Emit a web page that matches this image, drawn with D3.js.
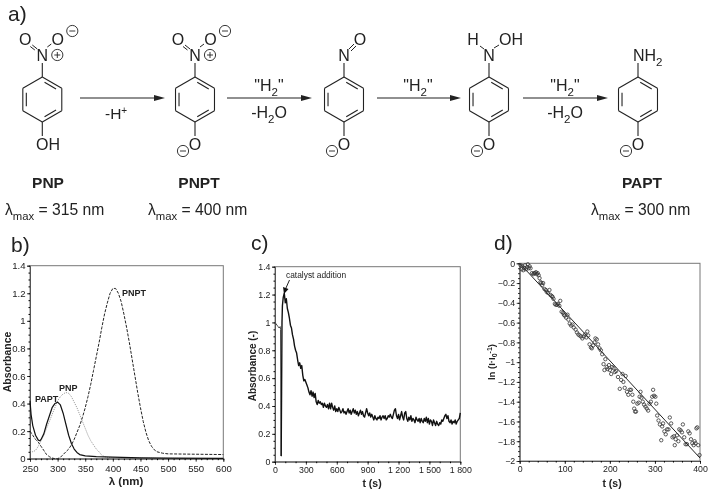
<!DOCTYPE html>
<html><head><meta charset="utf-8">
<script src="https://cdn.jsdelivr.net/npm/d3@7/dist/d3.min.js"></script>
<style>html,body{margin:0;padding:0;background:#fff}svg{display:block;filter:blur(.3px)}text{font-family:"Liberation Sans",Arial,sans-serif;fill:#222}</style>
</head><body><svg id="c" width="709" height="491"></svg>
<script>
// ---- panel b: spectra
const papLambda=[250,252,255,260,265,268,270,275,280,285,290,295,300,305,310,315,320,325,330,335,340,350,370,400,450,500,600];
const papAbs=[.42,.32,.24,.17,.135,.13,.14,.18,.25,.31,.37,.4,.41,.39,.33,.25,.17,.11,.07,.045,.03,.02,.015,.012,.006,.004,.003];
const pnpLambda=[250,255,260,265,270,275,280,285,290,295,300,305,310,315,320,325,330,335,340,345,350,355,360,365,370,375,380,385,390,400,600];
const pnpAbs=[.06,.05,.06,.09,.13,.17,.22,.27,.32,.37,.42,.45,.47,.48,.475,.45,.41,.37,.32,.27,.22,.17,.13,.1,.07,.05,.025,.015,.01,.005,0];
const pntLambda=[250,255,260,265,270,275,280,285,290,295,300,305,310,315,320,325,330,335,340,345,350,355,360,365,370,375,380,385,390,395,400,405,410,415,420,425,430,435,440,445,450,455,460,465,470,475,480,490,500,600];
const pntAbs=[.2,.17,.14,.12,.09,.06,.03,.015,.005,0,0,.01,.03,.05,.07,.1,.14,.19,.24,.3,.37,.45,.54,.64,.74,.84,.95,1.05,1.13,1.2,1.235,1.235,1.2,1.14,1.05,.95,.84,.72,.6,.48,.37,.27,.19,.13,.09,.065,.05,.04,.035,.03];
const bXTicks=[250,300,350,400,450,500,550,600];
const absTicks=[0,.2,.4,.6,.8,1,1.2,1.4];
// ---- panel c: kinetics
const cTimes=[0,10,20,30,40,50,54,57,60,64,68,72,76,80].concat(d3.range(90,1801,10));
const cAbs=[1,.99,.98,.97,.96,.97,.95,.4,.04,.5,1,1.12,1.15,1.18,
1.21,1.14,1.17,1.1,1.07,1.03,.98,.96,.91,.88,.83,.8,.78,.73,.69,.71,.67,.69,.62,.58,.59,.57,.55,.53,.5,.48,.51,.47,.5,.46,.49,.43,.41,.44,.42,.43,.41,.42,.39,.42,.4,.39,.41,.38,.42,.38,.42,.39,.37,.4,.36,
.38,.36,.39,.37,.35,.36,.38,.35,.36,.34,.36,.38,.35,.37,.34,.36,.38,.35,.37,.34,.36,.33,.35,.37,.34,.36,.33,.32,.35,.38,.35,.33,.35,.32,.34,.32,.3,.33,.31,.3,.32,.31,.33,.3,.32,.33,.31,.33,.3,.31,.33,.32,.34,.32,.31,.34,.37,.38,.33,.31,.34,.3,.33,.36,.32,.3,.35,.36,.31,.29,.32,.3,.33,.29,.31,.3,.28,.32,.3,.29,.31,.28,.31,.29,.28,.31,.29,.32,.28,.31,.27,.3,.29,.26,.3,.28,.26,.29,.27,.26,.28,.27,.3,.29,.31,.33,.34,.31,.33,.29,.28,.3,.27,.29,.28,.3,.27,.29,.3,.31,.35];
const cXTicks=[0,300,600,900,1200,1500,1800];
const cXLabels=["0","300","600","900","1 200","1 500","1 800"];
// ---- panel d: log plot
const dTimes=[2,4,6,8,10,12,14,16,18,20,22,24,27,30,32,34,36,38,40,42,44,46,48,50,52,55,58,60,63,66,68,71,73,75,78,80,83,85,88,90,93,96,98,100,103,106,108,111,114,117,120,124,127,130,133,136,139,142,145,148,150,152,155,158,160,163,166,168,171,174,177,180,183,186,188,190,193,195,198,200,203,205,208,211,214,218,222,225,228,230,233,235,238,241,244,247,250,252,254,256,258,261,264,266,268,270,273,276,279,282,285,288,291,294,296,298,301,303,305,308,311,314,316,318,321,324,327,330,333,336,339,342,344,346,349,352,354,357,360,362,365,368,371,374,377,380,383,386,388,390,392,394,396,399];
const dLn=[-.02,-.06,-.03,-.07,-.05,-.02,-.06,-.04,-.01,-.05,-.03,-.05,-.1,-.11,-.1,-.1,-.09,-.11,-.1,-.12,-.15,-.19,-.2,-.22,-.2,-.26,-.27,-.29,-.3,-.27,-.32,-.33,-.34,-.36,-.41,-.42,-.42,-.41,-.43,-.38,-.49,-.5,-.52,-.53,-.55,-.52,-.57,-.61,-.63,-.62,-.65,-.67,-.7,-.72,-.73,-.74,-.76,-.74,-.72,-.75,-.69,-.73,-.82,-.85,-.86,-.83,-.8,-.76,-.77,-.82,-.86,-.88,-.92,-1.02,-1.08,-.97,-1.05,-1.07,-1.03,-1.08,-1.12,-1.05,-1.06,-1.1,-1.09,-1.15,-1.27,-1.18,-1.12,-1.2,-1.26,-1.14,-1.3,-1.33,-1.28,-1.28,-1.33,-1.4,-1.47,-1.5,-1.5,-1.42,-1.41,-1.35,-1.3,-1.36,-1.4,-1.43,-1.45,-1.47,-1.49,-1.42,-1.4,-1.35,-1.28,-1.34,-1.35,-1.42,-1.54,-1.59,-1.63,-1.79,-1.65,-1.62,-1.7,-1.73,-1.68,-1.68,-1.56,-1.62,-1.76,-1.75,-1.84,-1.78,-1.74,-1.8,-1.68,-1.69,-1.71,-1.63,-1.76,-1.83,-1.83,-1.7,-1.72,-1.78,-1.82,-1.84,-1.8,-1.82,-1.67,-1.66,-1.84,-1.94];
const fitTimes=[0,400];
const fitLn=[0,-1.97];
const dXTicks=[0,100,200,300,400];
const dYTicks=[0,-.2,-.4,-.6,-.8,-1,-1.2,-1.4,-1.6,-1.8,-2];

const svg=d3.select("#c");
const T=(x,y,s,o={})=>{const t=svg.append("text").attr("x",x).attr("y",y).attr("font-size",o.size||14)
 .attr("text-anchor",o.anchor||"start").attr("font-weight",o.bold?"bold":null).text(s);
 if(o.rot!=null)t.attr("transform",`rotate(${o.rot},${x},${y})`);return t;};
const L=(a,b,c,d,w=1.1,col="#222")=>svg.append("line").attr("x1",a).attr("y1",b).attr("x2",c).attr("y2",d).attr("stroke",col).attr("stroke-width",w);
const sub=(t,s,size)=>t.append("tspan").attr("dy",size*.3).attr("font-size",size*.72).text(s);

// panel titles
[["a)",8,21],["b)",11,252],["c)",251,250],["d)",494,250]].forEach(d=>T(d[1],d[2],d[0],{size:21}));

// ---- scheme a)
function ring(cx){const cy=99.5,R=22.5,v=d3.range(6).map(i=>{const a=-Math.PI/2+i*Math.PI/3;return[cx+R*Math.cos(a),cy+R*Math.sin(a)]});
 v.forEach((p,i)=>{const q=v[(i+1)%6];L(p[0],p[1],q[0],q[1])});
 [0,2,4].forEach(i=>{const p=v[i],q=v[(i+1)%6],k=.82;
  const f=u=>[cx+(u[0]-cx)*k,cy+(u[1]-cy)*k],m=.14;
  const a=f(p),b=f(q);L(a[0]+(b[0]-a[0])*m,a[1]+(b[1]-a[1])*m,b[0]-(b[0]-a[0])*m,b[1]-(b[1]-a[1])*m)});}
function charge(x,y,plus){svg.append("circle").attr("cx",x).attr("cy",y).attr("r",5.6).attr("fill","none").attr("stroke","#222").attr("stroke-width",.9);
 L(x-3,y,x+3,y,.9);if(plus)L(x,y-3,x,y+3,.9);}
const atom=(x,y,s)=>T(x,y+5.5,s,{size:16,anchor:"middle"});
function nitro(cx){L(cx,77,cx,63);atom(cx,55,"N");atom(cx-17,39.5,"O");atom(cx+15.5,39.5,"O");
 L(cx-5,49,cx-10,45,1);L(cx-7.5,50,cx-12,46.5,1);L(cx+5,47,cx+9,44,1);charge(cx+30,31,false);charge(cx+15,55,true);}
function oxide(cx){L(cx,122,cx,136);atom(cx,144,"O");charge(cx-12,151,false);}
[42.3,195,344,489,638].forEach(ring);
nitro(42.3);L(42.3,122,42.3,136);T(48,150,"OH",{size:16,anchor:"middle"});
nitro(195);oxide(195);
L(344,77,344,63);atom(344,55,"N");atom(360,39,"O");L(349,49,354,44,1);L(351,51,356,46,1);oxide(344);
L(489,77,489,63);atom(489,55,"N");T(473,45,"H",{size:16,anchor:"middle"});T(511,45,"OH",{size:16,anchor:"middle"});L(484,49,480,46,1);L(494,48,499,45,1);oxide(489);
L(638,77,638,63);{const t=T(633,61,"NH",{size:16});sub(t,"2",16);}oxide(638);
function arrow(a,b){L(a,98,b-8,98,1.1);svg.append("path").attr("d",d3.line()([[b,98],[b-11,95],[b-11,101]])+"Z").attr("fill","#222");}
[[80,165],[227,312],[377,461],[523,608]].forEach(d=>arrow(d[0],d[1]));
{const t=T(105,119,"-H",{size:15.5});t.append("tspan").attr("dy",-5).attr("font-size",10).text("+");}
function h2(cx){const t=T(cx,91,'"H',{size:16,anchor:"middle"});sub(t,"2",16);t.append("tspan").attr("dy",-4.6).attr("font-size",16).text('"');}
function water(cx){const t=T(cx,118,"-H",{size:16,anchor:"middle"});sub(t,"2",16);t.append("tspan").attr("dy",-4.6).attr("font-size",16).text("O");}
[269,418,565].forEach(h2);[269,565].forEach(water);
[["PNP",48],["PNPT",199],["PAPT",642]].forEach(d=>T(d[1],188,d[0],{size:15.5,bold:true,anchor:"middle"}));
[["315",5],["400",148],["300",591]].forEach(d=>{const t=T(d[1],215,"λ",{size:15.7});sub(t,"max",15.7);
 t.append("tspan").attr("dy",-4.7).attr("font-size",15.7).text(" = "+d[0]+" nm");});

// ---- charts
function frame(x,y,xt,xf,yt,yf,size,xMinor,yMinor,xPad){
 const r=x.range(),b=y.range();
 svg.append("rect").attr("x",r[0]).attr("y",b[1]).attr("width",r[1]-r[0]).attr("height",b[0]-b[1]).attr("fill","none").attr("stroke","#777").attr("stroke-width",1);
 const gx=svg.append("g").attr("transform",`translate(0,${b[0]})`).call(d3.axisBottom(x).tickValues(xt).tickFormat(xf).tickSize(3).tickPadding(xPad));
 const gy=svg.append("g").attr("transform",`translate(${r[0]},0)`).call(d3.axisLeft(y).tickValues(yt).tickFormat(yf).tickSize(3).tickPadding(1.5));
 svg.append("g").attr("transform",`translate(0,${b[0]})`).call(d3.axisBottom(x).tickValues(xMinor).tickFormat("").tickSize(1.5)).select(".domain").remove();
 svg.append("g").attr("transform",`translate(${r[0]},0)`).call(d3.axisLeft(y).tickValues(yMinor).tickFormat("").tickSize(1.5)).select(".domain").remove();
 [gx,gy].forEach(g=>{g.select(".domain").attr("stroke","#555");g.selectAll("line").attr("stroke","#444");g.selectAll("text").attr("font-size",size).attr("font-family","Liberation Sans")});
}
const line=(x,y,xs,ys,w,col,dash)=>svg.append("path").datum(xs.map((v,i)=>[v,ys[i]])).attr("fill","none").attr("stroke",col).attr("stroke-width",w)
 .attr("stroke-dasharray",dash||null).attr("stroke-linejoin","round").attr("d",d3.line().x(d=>x(d[0])).y(d=>y(d[1])));
const fmt=d=>String(d);
const absMinor=d3.range(0,1.41,.05);

// b
{const x=d3.scaleLinear([250,600],[30,223.3]),y=d3.scaleLinear([0,1.4],[458.7,265.7]);
 frame(x,y,bXTicks,fmt,absTicks,fmt,9.6,d3.range(250,601,10),absMinor,3.2);
 line(x,y,pnpLambda,pnpAbs,.8,"#888","1.2 1");
 line(x,y,pntLambda,pntAbs,1,"#222","3 1.4");
 line(x,y,papLambda,papAbs,1.2,"#111");
 T(122,296,"PNPT",{size:9,bold:true});T(59,391,"PNP",{size:9,bold:true});T(35,402,"PAPT",{size:9,bold:true});
 T(126,485,"λ (nm)",{size:11.5,bold:true,anchor:"middle"});
 T(11,362,"Absorbance",{size:10.5,bold:true,anchor:"middle",rot:-90});}
// c
{const x=d3.scaleLinear([0,1800],[275,460.3]),y=d3.scaleLinear([0,1.4],[461.7,266.7]);
 frame(x,y,cXTicks,(d,i)=>cXLabels[i],absTicks,fmt,8.8,d3.range(0,1801,100),absMinor,2);
 const n=cTimes.indexOf(60);
 line(x,y,cTimes.slice(0,n+1),cAbs.slice(0,n+1),1,"#444");
 line(x,y,cTimes.slice(n),cAbs.slice(n),1.4,"#111");
 T(286,278,"catalyst addition",{size:8.4});
 L(289.5,280,285.5,289,1);svg.append("path").attr("d",d3.line()([[284,294],[283,287],[288.5,289]])+"Z").attr("fill","#111");
 T(372,487,"t (s)",{size:10.5,bold:true,anchor:"middle"});
 T(256,366,"Absorbance (-)",{size:10,bold:true,anchor:"middle",rot:-90});}
// d
{const x=d3.scaleLinear([0,400],[519.7,700]),y=d3.scaleLinear([-2,0],[461,263.3]);
 frame(x,y,dXTicks,fmt,dYTicks,d=>String(d).replace("-","−"),8.8,d3.range(0,401,20),d3.range(-2,.01,.05),2);
 line(x,y,fitTimes,fitLn,1,"#222");
 svg.append("g").selectAll("circle").data(dTimes).join("circle").attr("cx",d=>x(d)).attr("cy",(d,i)=>y(dLn[i])).attr("r",1.7).attr("fill","none").attr("stroke","#333").attr("stroke-width",.8);
 T(612,487,"t (s)",{size:10.5,bold:true,anchor:"middle"});
 const t=T(495,362,"ln (I·I",{size:9.5,bold:true,anchor:"middle",rot:-90});
 t.append("tspan").attr("dy",2).attr("font-size",7).text("0");t.append("tspan").attr("dy",-5).attr("font-size",7).text("-1");t.append("tspan").attr("dy",3).text(")");}
</script></body></html>
